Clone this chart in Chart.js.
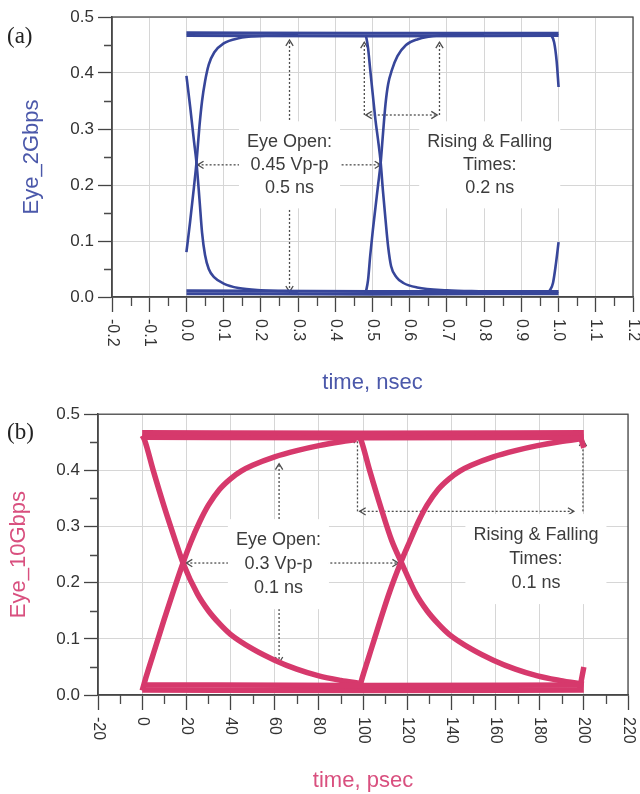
<!DOCTYPE html>
<html>
<head>
<meta charset="utf-8">
<script src="https://cdn.jsdelivr.net/npm/chart.js@4.4.1/dist/chart.umd.min.js"></script>
<style>
  body { margin: 0; background: #fff; }
  .panel { position: relative; width: 640px; }
  .tag { position: absolute; left: 7px; font-family: "Liberation Serif", "Times New Roman", serif;
         font-size: 23px; line-height: 23px; color: #222; }
</style>
</head>
<body>
<div class="panel" style="height:400px"><canvas id="eye2g"></canvas><span class="tag" style="top:24px">(a)</span></div>
<div class="panel" style="height:394px"><canvas id="eye10g"></canvas><span class="tag" style="top:20px">(b)</span></div>
<script>
// shared amplitude axis
const voltLabels = ['0.0', '0.1', '0.2', '0.3', '0.4', '0.5'];

// ---- 2 Gbps eye, time in ns ----
const nsLabels = ['-0.2', '-0.1', '0.0', '0.1', '0.2', '0.3', '0.4', '0.5', '0.6', '0.7', '0.8', '0.9', '1.0', '1.1', '1.2'];

const railNs = [0, 0.5, 1.0];
const highNsA = [0.472, 0.471, 0.471];
const highNsB = [0.467, 0.466, 0.467];
const lowNsA = [0.011, 0.010, 0.010];
const lowNsB = [0.006, 0.005, 0.006];

const rise1Ns = [0, 0.010, 0.020, 0.027, 0.035, 0.042, 0.050, 0.060, 0.075, 0.100, 0.140, 0.200, 0.300];
const rise1V = [0.080, 0.135, 0.195, 0.240, 0.305, 0.350, 0.385, 0.415, 0.437, 0.453, 0.462, 0.466, 0.468];
const fall1Ns = [0, 0.010, 0.020, 0.027, 0.035, 0.042, 0.050, 0.060, 0.075, 0.100, 0.140, 0.200, 0.300];
const fall1V = [0.395, 0.340, 0.280, 0.240, 0.175, 0.115, 0.075, 0.050, 0.035, 0.024, 0.016, 0.012, 0.010];

const fall2Ns = [0.482, 0.488, 0.494, 0.501, 0.508, 0.515, 0.522, 0.528, 0.535, 0.542, 0.550, 0.565, 0.583, 0.620, 0.700, 0.800];
const fall2V = [0.468, 0.445, 0.405, 0.360, 0.316, 0.280, 0.240, 0.190, 0.138, 0.090, 0.055, 0.035, 0.025, 0.017, 0.012, 0.010];
const rise2Ns = [0.482, 0.488, 0.494, 0.501, 0.508, 0.515, 0.522, 0.528, 0.535, 0.542, 0.552, 0.567, 0.590, 0.620, 0.680, 0.800];
const rise2V = [0.008, 0.030, 0.075, 0.120, 0.160, 0.200, 0.240, 0.290, 0.345, 0.380, 0.405, 0.430, 0.450, 0.460, 0.467, 0.469];

const fall3Ns = [0.978, 0.988, 0.995, 1.000];
const fall3V = [0.470, 0.455, 0.420, 0.375];
const rise3Ns = [0.975, 0.985, 0.993, 1.000];
const rise3V = [0.010, 0.025, 0.060, 0.098];

// dotted markers: [t1, v1, t2, v2, head at start, head at end]
const marksNs = [
  [0.277, 0.009, 0.277, 0.459, 1, 1],
  [0.030, 0.236, 0.522, 0.236, 1, 1],
  [0.478, 0.325, 0.478, 0.455, 0, 1],
  [0.680, 0.325, 0.680, 0.455, 0, 1],
  [0.482, 0.325, 0.674, 0.325, 1, 1]
];
const eyeTextNs = ['Eye Open:', '0.45 Vp-p', '0.5 ns'];
const edgeTextNs = ['Rising & Falling', 'Times:', '0.2 ns'];

// ---- 10 Gbps eye, time in ps ----
const psLabels = ['-20', '0', '20', '40', '60', '80', '100', '120', '140', '160', '180', '200', '220'];

const railPs = [0, 100, 200];
const highPsA = [0.467, 0.466, 0.467];
const highPsB = [0.459, 0.458, 0.459];
const lowPsA = [0.018, 0.017, 0.018];
const lowPsB = [0.009, 0.008, 0.009];

const rise1Ps = [0, 2, 6, 10, 14, 18.5, 22, 26, 30, 35, 40, 45, 50, 60, 70, 80, 90, 97];
const rise1PsV = [0.008, 0.035, 0.085, 0.135, 0.183, 0.235, 0.272, 0.308, 0.338, 0.366, 0.385, 0.399, 0.409, 0.424, 0.435, 0.444, 0.451, 0.455];
const fall1Ps = [0, 1, 5, 10, 15, 18.5, 25, 30, 35, 40, 50, 60, 70, 80, 90, 98];
const fall1PsV = [0.462, 0.455, 0.400, 0.335, 0.275, 0.235, 0.180, 0.150, 0.127, 0.108, 0.082, 0.062, 0.046, 0.034, 0.026, 0.021];

const fall2Ps = [98, 99, 103, 108, 113, 117.5, 124, 129, 134, 139, 149, 159, 169, 179, 189, 200];
const fall2PsV = [0.462, 0.455, 0.400, 0.335, 0.275, 0.235, 0.180, 0.150, 0.127, 0.108, 0.082, 0.062, 0.046, 0.034, 0.026, 0.019];
const rise2Ps = [98, 100, 104, 108, 112, 117, 121, 125, 129, 134, 139, 144, 149, 159, 169, 179, 189, 200];
const rise2PsV = [0.008, 0.035, 0.085, 0.135, 0.183, 0.235, 0.272, 0.308, 0.338, 0.366, 0.385, 0.399, 0.409, 0.424, 0.435, 0.444, 0.451, 0.457];

const fall3Ps = [198, 200];
const fall3PsV = [0.466, 0.440];
const rise3Ps = [198, 200];
const rise3PsV = [0.008, 0.050];

const marksPs = [
  [62, 0.057, 62, 0.412, 1, 1],
  [20, 0.235, 116, 0.235, 1, 1],
  [97.5, 0.327, 97.5, 0.459, 0, 1],
  [199.6, 0.327, 199.6, 0.454, 0, 1],
  [98.5, 0.327, 195.5, 0.327, 1, 1]
];
const eyeTextPs = ['Eye Open:', '0.3 Vp-p', '0.1 ns'];
const edgeTextPs = ['Rising & Falling', 'Times:', '0.1 ns'];

const SANS = '"Liberation Sans", Arial, sans-serif';

let pts = (t, v) => t.map((x, i) => ({ x: x, y: v[i] }));

function chevron(ctx, x, y, ang) {
  const len = 7, spread = 0.55;
  ctx.beginPath();
  ctx.moveTo(x - len * Math.cos(ang - spread), y - len * Math.sin(ang - spread));
  ctx.lineTo(x, y);
  ctx.lineTo(x - len * Math.cos(ang + spread), y - len * Math.sin(ang + spread));
  ctx.stroke();
}

function dottedArrow(ctx, x1, y1, x2, y2, headStart, headEnd) {
  ctx.setLineDash([2, 2]);
  ctx.beginPath();
  ctx.moveTo(x1, y1);
  ctx.lineTo(x2, y2);
  ctx.stroke();
  ctx.setLineDash([]);
  const ang = Math.atan2(y2 - y1, x2 - x1);
  if (headEnd) chevron(ctx, x2, y2, ang);
  if (headStart) chevron(ctx, x1, y1, ang + Math.PI);
}

// markers, text boxes, frame, minor ticks and the turned x labels
const eyeDecor = {
  id: 'eyeDecor',
  beforeDatasetsDraw(chart, args, opts) {
    const { ctx, scales: { x, y } } = chart;
    ctx.save();
    ctx.strokeStyle = '#4d4d4d';
    ctx.lineWidth = 1.3;
    opts.marks.forEach(m => dottedArrow(ctx,
      x.getPixelForValue(m[0]), y.getPixelForValue(m[1]),
      x.getPixelForValue(m[2]), y.getPixelForValue(m[3]), m[4], m[5]));
    ctx.font = '18px ' + SANS;
    ctx.textAlign = 'center';
    ctx.textBaseline = 'middle';
    opts.notes.forEach(n => {
      const cx = x.getPixelForValue(n.x), cy = y.getPixelForValue(n.y);
      const w = Math.max(...n.lines.map(l => ctx.measureText(l).width));
      const h = n.lines.length * opts.gap;
      ctx.fillStyle = '#fff';
      ctx.fillRect(cx - w / 2 - 8, cy - h / 2 - 9, w + 16, h + 18);
      ctx.fillStyle = '#3c3c3c';
      n.lines.forEach((l, i) => ctx.fillText(l, cx, cy + (i - (n.lines.length - 1) / 2) * opts.gap));
    });
    ctx.restore();
  },
  afterDraw(chart, args, opts) {
    const { ctx, chartArea: ca, scales: { x, y } } = chart;
    ctx.save();
    ctx.strokeStyle = '#4a4a4a';
    ctx.lineWidth = 1.3;
    ctx.strokeRect(ca.left, ca.top, ca.right - ca.left, ca.bottom - ca.top);
    ctx.beginPath();
    for (let i = 0; i + 1 < x.ticks.length; i++) {
      const px = Math.round(x.getPixelForValue((x.ticks[i].value + x.ticks[i + 1].value) / 2)) + 0.5;
      ctx.moveTo(px, ca.bottom);
      ctx.lineTo(px, ca.bottom + 9);
    }
    for (let i = 0; i + 1 < y.ticks.length; i++) {
      const py = Math.round(y.getPixelForValue((y.ticks[i].value + y.ticks[i + 1].value) / 2)) + 0.5;
      ctx.moveTo(ca.left, py);
      ctx.lineTo(ca.left - 8, py);
    }
    ctx.stroke();
    ctx.fillStyle = '#333';
    ctx.font = '16px ' + SANS;
    ctx.textAlign = 'left';
    ctx.textBaseline = 'middle';
    opts.xLabels.forEach(l => {
      ctx.save();
      ctx.translate(x.getPixelForValue(Number(l)), ca.bottom + 22);
      ctx.rotate(Math.PI / 2);
      ctx.fillText(l, 0, 0);
      ctx.restore();
    });
    ctx.restore();
  }
};

let trace = (data, color, width) => ({
  data: data, showLine: true, borderColor: color, borderWidth: width,
  pointRadius: 0, fill: false, cubicInterpolationMode: 'monotone'
});

function eyeChart(id, o) {
  return new Chart(document.getElementById(id), {
    type: 'scatter',
    data: { datasets: o.datasets },
    options: {
      responsive: true,
      maintainAspectRatio: false,
      animation: false,
      layout: { padding: o.padding },
      plugins: {
        legend: { display: false },
        tooltip: { enabled: false },
        eyeDecor: { marks: o.marks, notes: o.notes, xLabels: o.xLabels, gap: o.gap }
      },
      scales: {
        x: {
          type: 'linear', min: o.xMin, max: o.xMax,
          ticks: { stepSize: o.xStep, display: false },
          grid: { color: '#d6d6d6', lineWidth: 1, tickColor: '#444', tickLength: 15, tickWidth: 1.3 },
          border: { color: '#444', width: 1.5 },
          title: {
            display: true, text: o.xTitle, color: o.titleColor,
            font: { family: SANS, size: 22, lineHeight: 1 }, padding: { top: 0, bottom: o.xTitlePad }
          },
          afterFit: s => { s.height = o.xAxisHeight; }
        },
        y: {
          type: 'linear', min: 0, max: 0.5,
          ticks: {
            stepSize: 0.1, padding: 4, color: '#333',
            font: { family: SANS, size: 17 },
            callback: (v, i) => voltLabels[i]
          },
          grid: { color: '#d6d6d6', lineWidth: 1, tickColor: '#444', tickLength: 14, tickWidth: 1.3 },
          border: { color: '#444', width: 1.5 },
          title: {
            display: true, text: o.yTitle, color: o.titleColor,
            font: { family: SANS, size: 22, lineHeight: 1 }, padding: { top: o.yTitlePad, bottom: 0 }
          },
          afterFit: s => { s.width = o.yAxisWidth; }
        }
      }
    },
    plugins: [eyeDecor]
  });
}

const blue = '#37469a';
eyeChart('eye2g', {
  xMin: -0.2, xMax: 1.2, xStep: 0.1, xLabels: nsLabels,
  xTitle: 'time, nsec', yTitle: 'Eye_2Gbps', titleColor: '#4b58aa',
  padding: { top: 17, right: 7, left: 0, bottom: 0 },
  yAxisWidth: 112, xAxisHeight: 103, xTitlePad: 6, yTitlePad: 21, gap: 23,
  marks: marksNs,
  notes: [
    { x: 0.277, y: 0.236, lines: eyeTextNs },
    { x: 0.815, y: 0.236, lines: edgeTextNs }
  ],
  datasets: [
    trace(pts(railNs, highNsA), blue, 3),
    trace(pts(railNs, highNsB), blue, 3),
    trace(pts(railNs, lowNsA), blue, 3),
    trace(pts(railNs, lowNsB), blue, 3),
    trace(pts(rise1Ns, rise1V), blue, 2.6),
    trace(pts(fall1Ns, fall1V), blue, 2.6),
    trace(pts(fall2Ns, fall2V), blue, 2.6),
    trace(pts(rise2Ns, rise2V), blue, 2.6),
    trace(pts(fall3Ns, fall3V), blue, 2.6),
    trace(pts(rise3Ns, rise3V), blue, 2.6)
  ]
});

const pink = '#d6396c';
eyeChart('eye10g', {
  xMin: -20, xMax: 220, xStep: 20, xLabels: psLabels,
  xTitle: 'time, psec', yTitle: 'Eye_10Gbps', titleColor: '#d9507f',
  padding: { top: 12, right: 12, left: 0, bottom: 0 },
  yAxisWidth: 98, xAxisHeight: 99, xTitlePad: 2, yTitlePad: 8, gap: 24,
  marks: marksPs,
  notes: [
    { x: 61.7, y: 0.233, lines: eyeTextPs },
    { x: 178.3, y: 0.242, lines: edgeTextPs }
  ],
  datasets: [
    trace(pts(railPs, highPsA), pink, 5.5),
    trace(pts(railPs, highPsB), pink, 5.5),
    trace(pts(railPs, lowPsA), pink, 5.5),
    trace(pts(railPs, lowPsB), pink, 5.5),
    trace(pts(rise1Ps, rise1PsV), pink, 5.5),
    trace(pts(fall1Ps, fall1PsV), pink, 5.5),
    trace(pts(fall2Ps, fall2PsV), pink, 5.5),
    trace(pts(rise2Ps, rise2PsV), pink, 5.5),
    trace(pts(fall3Ps, fall3PsV), pink, 5.5),
    trace(pts(rise3Ps, rise3PsV), pink, 5.5)
  ]
});
</script>
</body>
</html>
